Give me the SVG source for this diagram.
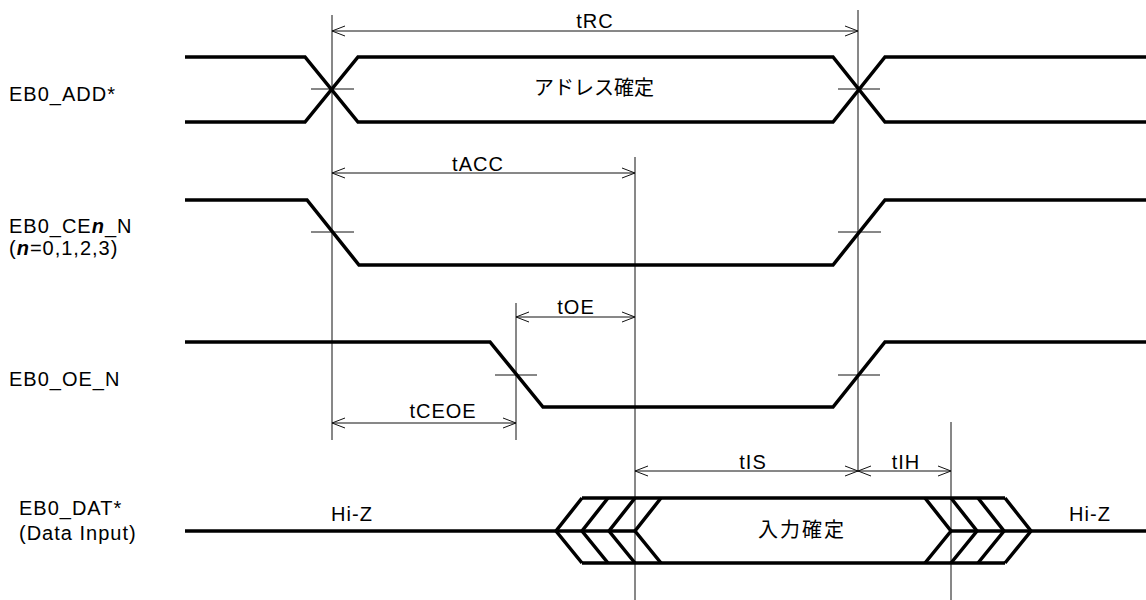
<svg xmlns="http://www.w3.org/2000/svg" width="1146" height="600" viewBox="0 0 1146 600">
<defs>
<marker id="ah" markerUnits="userSpaceOnUse" markerWidth="16" markerHeight="14" viewBox="-14 -7 16 14" refX="0" refY="0" orient="auto-start-reverse">
<path d="M-13,-5 L0,0 L-13,5" fill="none" stroke="#111" stroke-width="1"/>
</marker>
<style>
.sig{fill:none;stroke:#000;stroke-width:3.5;stroke-linejoin:miter;stroke-linecap:butt}
.thin{fill:none;stroke:#111;stroke-width:1}
.dim{fill:none;stroke:#111;stroke-width:1;marker-start:url(#ah);marker-end:url(#ah)}
.lbl{font-family:"Liberation Sans",Arial,"Noto Sans CJK JP",sans-serif;font-size:20px;letter-spacing:1px;fill:#000}
.mid{text-anchor:middle}
.jp{font-family:"Noto Sans CJK JP","Liberation Sans",sans-serif;font-size:20px;fill:#000;text-anchor:middle}
</style>
</defs>
<rect width="1146" height="600" fill="#fff"/>

<g id="guides">
<line class="thin" x1="332" y1="15" x2="332" y2="440"/>
<line class="thin" x1="858" y1="10" x2="858" y2="472"/>
<line class="thin" x1="635" y1="157" x2="635" y2="600"/>
<line class="thin" x1="516" y1="303" x2="516" y2="440"/>
<line class="thin" x1="951" y1="422" x2="951" y2="600"/>
<line class="thin" x1="311" y1="89" x2="354" y2="89"/>
<line class="thin" x1="838" y1="89" x2="880" y2="89"/>
<line class="thin" x1="311" y1="232" x2="354" y2="232"/>
<line class="thin" x1="838" y1="232" x2="881" y2="232"/>
<line class="thin" x1="495" y1="375" x2="537" y2="375"/>
<line class="thin" x1="838" y1="375" x2="880" y2="375"/>
</g>

<g id="sig-add">
<polyline class="sig" points="185,57 305,57 358,122 833,122 885,57 1146,57"/>
<polyline class="sig" points="185,122 305,122 358,57 833,57 885,122 1146,122"/>
<text class="lbl" x="9" y="101">EB0_ADD*</text>
<text class="jp" x="594" y="95">アドレス確定</text>
</g>

<g id="sig-ce">
<polyline class="sig" points="185,200 307,200 359,265 833,265 885,200 1146,200"/>
<text class="lbl" x="9" y="233">EB0_CE<tspan font-weight="bold" font-style="italic">n</tspan>_N</text>
<text class="lbl" x="9" y="255">(<tspan font-weight="bold" font-style="italic">n</tspan>=0,1,2,3)</text>
</g>

<g id="sig-oe">
<polyline class="sig" points="185,342 490,342 543,407 833,407 885,342 1146,342"/>
<text class="lbl" x="9" y="386">EB0_OE_N</text>
</g>

<g id="sig-dat">
<polyline class="sig" points="185,531 636,531"/>
<polyline class="sig" points="582,498 1005,498"/>
<polyline class="sig" points="582,563 1005,563"/>
<polyline class="sig" points="582,498 556,531 582,563"/>
<polyline class="sig" points="608,498 582,531 608,563"/>
<polyline class="sig" points="635,498 609,531 635,563"/>
<polyline class="sig" points="661,498 635,531 661,563"/>
<polyline class="sig" points="925,498 951,531 925,563"/>
<polyline class="sig" points="951,498 977,531 951,563"/>
<polyline class="sig" points="978,498 1004,531 978,563"/>
<polyline class="sig" points="1005,498 1031,531 1005,563"/>
<polyline class="sig" points="951,531 1146,531"/>
<text class="lbl" x="19" y="515">EB0_DAT*</text>
<text class="lbl" x="19" y="540">(Data Input)</text>
<text class="lbl mid" x="352" y="521">Hi-Z</text>
<text class="lbl mid" x="1090" y="521">Hi-Z</text>
<text class="jp" x="802" y="537" letter-spacing="2">入力確定</text>
</g>

<g id="connectors">
<line class="dim" x1="332" y1="31" x2="858" y2="31"/>
<line class="dim" x1="332" y1="173" x2="635" y2="173"/>
<line class="dim" x1="516" y1="317" x2="635" y2="317"/>
<line class="dim" x1="332" y1="423" x2="516" y2="423"/>
<line class="dim" x1="635" y1="471" x2="858" y2="471"/>
<line class="dim" x1="858" y1="471" x2="951" y2="471"/>
<text class="lbl mid" x="595" y="28">tRC</text>
<text class="lbl mid" x="478" y="171">tACC</text>
<text class="lbl mid" x="576" y="314">tOE</text>
<text class="lbl mid" x="443" y="418">tCEOE</text>
<text class="lbl mid" x="753" y="469">tIS</text>
<text class="lbl mid" x="906" y="469">tIH</text>
</g>
</svg>
